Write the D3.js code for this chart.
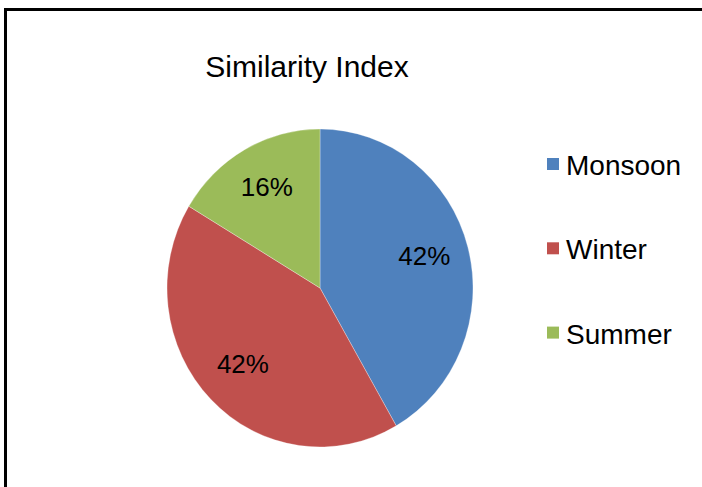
<!DOCTYPE html>
<html>
<head>
<meta charset="utf-8">
<script src="https://cdn.jsdelivr.net/npm/d3@7"></script>
<style>
  html, body { margin: 0; padding: 0; background: #fff; }
  svg { display: block; }
  text { font-family: "Liberation Sans", Arial, sans-serif; fill: #000; }
</style>
</head>
<body>
<svg id="chart" width="702" height="487"></svg>
<script>
const title = "Similarity Index";
const categories = ["Monsoon", "Winter", "Summer"];
const values = [41.7, 41.9, 16.4];
const labels = ["42%", "42%", "16%"];
const colors = ["#4F81BD", "#C0504D", "#9BBB59"];

const svg = d3.select("#chart");
const W = 702, H = 487;

// frame
svg.append("rect")
  .attr("x", 5.5).attr("y", 9.5)
  .attr("width", W + 20).attr("height", H + 20)
  .attr("fill", "#fff").attr("stroke", "#000").attr("stroke-width", 3);

// title
svg.append("text")
  .attr("x", 307).attr("y", 77)
  .attr("text-anchor", "middle")
  .attr("font-size", 30)
  .text(title);

// pie
const cx = 320, cy = 288, rx = 153, ry = 159;
const color = d3.scaleOrdinal().domain(categories).range(colors);
const pie = d3.pie().sort(null).value(d => d.value);
const data = pie(categories.map((c, i) => ({ name: c, value: values[i], label: labels[i] })));
const arc = d3.arc().innerRadius(0).outerRadius(rx);
const labelArc = d3.arc().innerRadius(108).outerRadius(108);

const g = svg.append("g").attr("transform", `translate(${cx},${cy})`);
g.append("g").attr("transform", `scale(1,${ry / rx})`)
  .selectAll("path").data(data).join("path")
  .attr("d", arc)
  .attr("fill", d => color(d.data.name))
  .attr("stroke", "#fff").attr("stroke-width", 0.5).attr("stroke-opacity", 0.6);

g.selectAll("text.lbl").data(data).join("text")
  .attr("class", "lbl")
  .attr("x", d => labelArc.centroid(d)[0])
  .attr("y", d => labelArc.centroid(d)[1] * ry / rx - 3)
  .attr("text-anchor", "middle")
  .attr("dominant-baseline", "central")
  .attr("font-size", 26)
  .text(d => d.data.label);

// legend
const lg = svg.append("g");
const items = lg.selectAll("g").data(categories).join("g")
  .attr("transform", (d, i) => `translate(547,${158 + i * 84.3})`);
items.append("rect")
  .attr("width", 12).attr("height", 12)
  .attr("fill", d => color(d));
items.append("text")
  .attr("x", 19).attr("y", 17)
  .attr("font-size", 28)
  .text(d => d);
</script>
</body>
</html>
